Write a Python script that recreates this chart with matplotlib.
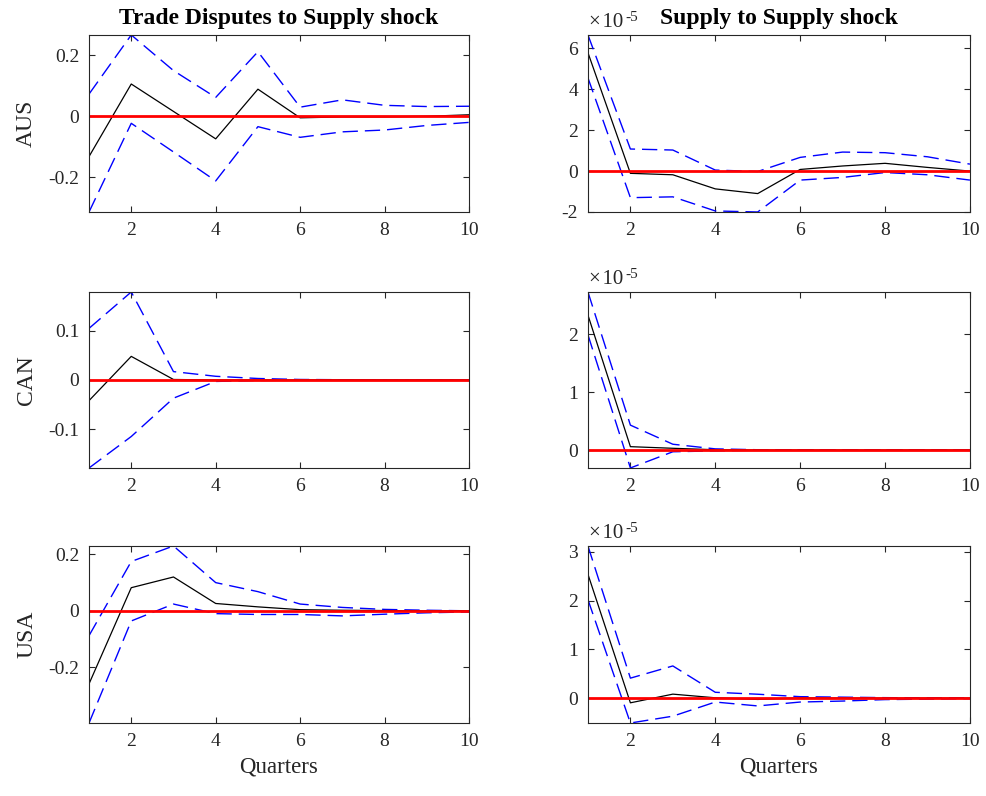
import numpy as np
import matplotlib
matplotlib.use("Agg")
import matplotlib.pyplot as plt
from matplotlib.ticker import MultipleLocator, FuncFormatter

plt.rcParams['font.family'] = ['Liberation Serif', 'DejaVu Serif']
plt.rcParams['axes.unicode_minus'] = False

quarters = np.arange(1, 11)
countries = ['AUS', 'CAN', 'USA']

# ---------------- Trade Disputes to Supply shock -----------------
td_aus = [-0.132, 0.106, 0.016, -0.074, 0.089, -0.005, -0.002, -0.002, 0.0, 0.005]
td_aus_hi = [0.073, 0.267, 0.15, 0.062, 0.212, 0.03, 0.054, 0.036, 0.032, 0.033]
td_aus_lo = [-0.314, -0.023, -0.117, -0.212, -0.034, -0.069, -0.051, -0.045, -0.03, -0.02]

td_can = [-0.042, 0.048, 0.001, 0.0, 0.0, 0.0, 0.0, 0.0, 0.0, 0.0]
td_can_hi = [0.105, 0.179, 0.017, 0.0075, 0.003, 0.001, 0.0005, 0.0, 0.0, 0.0]
td_can_lo = [-0.179, -0.115, -0.037, -0.003, -0.001, -0.0005, 0.0, 0.0, 0.0, 0.0]

td_usa = [-0.259, 0.082, 0.12, 0.026, 0.014, 0.004, 0.002, 0.001, 0.0, 0.0]
td_usa_hi = [-0.088, 0.175, 0.23, 0.1, 0.068, 0.024, 0.012, 0.005, 0.002, 0.0]
td_usa_lo = [-0.398, -0.036, 0.024, -0.01, -0.013, -0.013, -0.018, -0.012, -0.007, -0.004]

# ---------------- Supply to Supply shock -----------------
sp_aus = [5.79e-5, -0.11e-5, -0.18e-5, -0.87e-5, -1.10e-5, 0.08e-5, 0.25e-5, 0.38e-5, 0.18e-5, 0.0]
sp_aus_hi = [6.66e-5, 1.08e-5, 1.03e-5, 0.05e-5, -0.02e-5, 0.67e-5, 0.93e-5, 0.90e-5, 0.70e-5, 0.34e-5]
sp_aus_lo = [4.56e-5, -1.30e-5, -1.26e-5, -1.95e-5, -2.0e-5, -0.44e-5, -0.31e-5, -0.07e-5, -0.18e-5, -0.44e-5]

sp_can = [2.33e-5, 0.058e-5, 0.03e-5, 0.005e-5, 0.0, 0.0, 0.0, 0.0, 0.0, 0.0]
sp_can_hi = [2.73e-5, 0.43e-5, 0.10e-5, 0.02e-5, 0.005e-5, 0.002e-5, 0.0, 0.0, 0.0, 0.0]
sp_can_lo = [1.99e-5, -0.31e-5, -0.03e-5, -0.015e-5, -0.002e-5, 0.0, 0.0, 0.0, 0.0, 0.0]

sp_usa = [2.54e-5, -0.096e-5, 0.082e-5, 0.007e-5, -0.027e-5, 0.005e-5, 0.0, 0.0, 0.0, 0.0]
sp_usa_hi = [3.12e-5, 0.41e-5, 0.66e-5, 0.12e-5, 0.08e-5, 0.03e-5, 0.02e-5, 0.01e-5, 0.005e-5, 0.005e-5]
sp_usa_lo = [2.02e-5, -0.51e-5, -0.37e-5, -0.08e-5, -0.16e-5, -0.08e-5, -0.06e-5, -0.03e-5, -0.02e-5, -0.01e-5]

left = [(td_aus, td_aus_hi, td_aus_lo), (td_can, td_can_hi, td_can_lo), (td_usa, td_usa_hi, td_usa_lo)]
right = [(sp_aus, sp_aus_hi, sp_aus_lo), (sp_can, sp_can_hi, sp_can_lo), (sp_usa, sp_usa_hi, sp_usa_lo)]
left_step = [0.2, 0.1, 0.2]
right_step = [2e-5, 1e-5, 1e-5]
scale = 1e-5

fig = plt.figure(figsize=(9.86, 7.96), dpi=100)
row_bottom = [0.7337, 0.4121, 0.0917]
row_height = [0.2224, 0.2211, 0.2224]
col_left = [0.0903, 0.5963]
col_width = [0.3854, 0.3874]

grey = (0.15, 0.15, 0.15)


def draw(ax, series, step):
    irf, hi, lo = series
    ax.plot(quarters, hi, color='#0000FF', lw=1.0, dashes=(11, 5))
    ax.plot(quarters, lo, color='#0000FF', lw=1.0, dashes=(11, 5))
    ax.plot(quarters, irf, color='black', lw=0.9)
    ax.axhline(0, color='#FF0000', lw=2.0)
    ax.set_xlim(1, 10)
    ax.set_ylim(min(lo), max(hi))
    ax.xaxis.set_major_locator(MultipleLocator(2))
    ax.yaxis.set_major_locator(MultipleLocator(step))
    ax.tick_params(direction='in', top=True, right=True, length=4, width=0.8,
                   labelsize=14, colors=grey, labelcolor=grey, pad=7)
    for s in ax.spines.values():
        s.set_color(grey)
        s.set_linewidth(0.8)


for i in range(3):
    ax = fig.add_axes([col_left[0], row_bottom[i], col_width[0], row_height[i]])
    draw(ax, left[i], left_step[i])
    ax.yaxis.set_major_formatter(FuncFormatter(lambda v, p: '%g' % round(v, 6)))
    ax.set_ylabel(countries[i], fontsize=17, color=grey, labelpad=8)
    if i == 0:
        ax.set_title('Trade Disputes to Supply shock', fontsize=17, fontweight='bold', pad=8)
    if i == 2:
        ax.set_xlabel('Quarters', fontsize=16.5, color=grey, labelpad=5)

    ax = fig.add_axes([col_left[1], row_bottom[i], col_width[1], row_height[i]])
    draw(ax, right[i], right_step[i])
    ax.yaxis.set_major_formatter(FuncFormatter(lambda v, p: '%g' % round(v / scale, 6)))
    # MATLAB style exponent label above the axes
    ax.annotate('\u00d7\u200a10', xy=(0, 1), xycoords='axes fraction', xytext=(1, 2),
                textcoords='offset points', fontsize=15, color=grey, va='bottom', ha='left')
    ax.annotate('-5', xy=(0, 1), xycoords='axes fraction', xytext=(27, 8),
                textcoords='offset points', fontsize=11, color=grey, va='bottom', ha='left')
    if i == 0:
        ax.set_title('Supply to Supply shock', fontsize=17, fontweight='bold', pad=8)
    if i == 2:
        ax.set_xlabel('Quarters', fontsize=16.5, color=grey, labelpad=5)

fig.savefig('out.png', dpi=100)
